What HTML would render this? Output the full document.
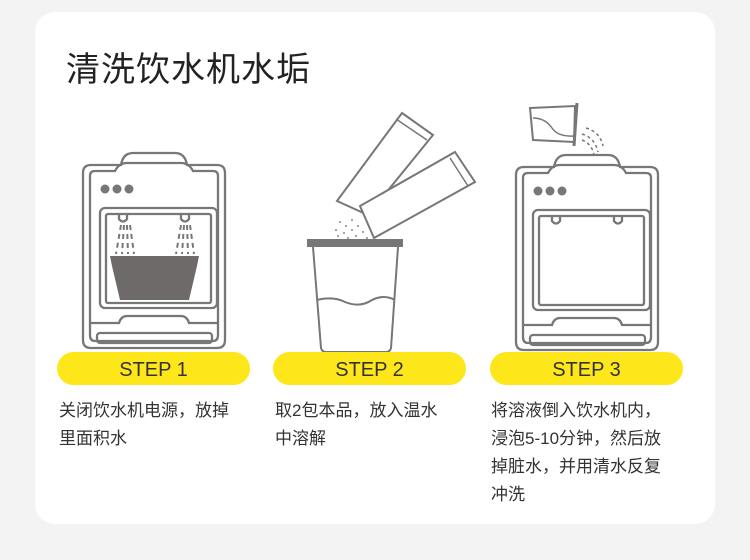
<!DOCTYPE html>
<html><head><meta charset="utf-8"><style>
body{margin:0;width:750px;height:560px;background:#f3f3f3;font-family:"Liberation Sans","Noto Sans CJK SC",sans-serif;overflow:hidden;position:relative}
.card{position:absolute;left:35px;top:12px;width:680px;height:512px;background:#fff;border-radius:20px}
.title{position:absolute;left:66px;top:42px;font-size:34px;color:#222;letter-spacing:1px}
.pill{position:absolute;top:352px;height:33px;width:193px;background:#fde619;border-radius:17px;text-align:center;line-height:37px;font-size:20px;color:#333}
.txt{position:absolute;top:397px;font-size:17px;line-height:28px;color:#333;width:200px}
svg{position:absolute;left:0;top:0}
</style></head><body>
<div class="card"></div>
<div class="title">清洗饮水机水垢</div>
<svg width="750" height="560" fill="none" stroke="#777" stroke-width="2.3">
<defs>
<g id="m">
<path d="M8 12 H38 Q40 0 50 0 H92 Q102 0 104 12 H134 Q142 12 142 20 V187 Q142 195 134 195 H8 Q0 195 0 187 V20 Q0 12 8 12 Z"/>
<path d="M12 18 H32 Q36 10 44 10 H98 Q106 10 110 18 H130 Q135 18 135 23 V182 Q135 188 130 188 H12 Q7 188 7 182 V23 Q7 18 12 18 Z"/>
<rect x="17" y="55" width="117" height="100" rx="5"/>
<rect x="23" y="61" width="105" height="89" rx="2"/>
<path d="M36 61 V66 Q40 71 44 66 V61 M98 61 V66 Q102 71 106 66 V61"/>
<path d="M7 170 H36 Q38 163 44 163 H98 Q104 163 106 170 H135"/>
<rect x="14" y="180" width="115" height="10" rx="3"/>
<circle cx="22" cy="36" r="4.5" fill="#777" stroke="none"/>
<circle cx="34" cy="36" r="4.5" fill="#777" stroke="none"/>
<circle cx="46" cy="36" r="4.5" fill="#777" stroke="none"/>
</g>
</defs>
<use href="#m" x="83" y="153"/>
<use href="#m" x="516" y="155"/>
<path d="M110 256 H199 L197 266 L189 300 H120 L112 266 Z" fill="#6e6a6a" stroke="none"/>
<g stroke-width="2" stroke-dasharray="5 4">
<path d="M121 225 L116 254 M124 225 L122 254 M127 225 L128 254 M130 225 L134 254"/>
<path d="M181 225 L176 254 M184 225 L182 254 M187 225 L188 254 M190 225 L194 254"/>
</g>
<rect x="307" y="239" width="96" height="8" fill="#777" stroke="none"/>
<path d="M313 247 L321 348 Q322 352 326 352 H386 Q390 352 391 348 L398 247" stroke-width="2"/>
<path d="M317 300 Q333 296 345 302 Q360 308 372 300 Q384 294 395 300" stroke-width="2"/>
<polygon points="402,113 433,135 368,215 337,201" fill="#fff" stroke-width="2"/>
<polygon points="455,152 475,182 374,238 360,206" fill="#fff" stroke-width="2"/>
<path d="M396 119 L427 140 M450 158 L468 186" stroke-width="1.5"/>
<g fill="#888" stroke="none">
<circle cx="340" cy="222" r="1"/><circle cx="346" cy="226" r="1"/><circle cx="352" cy="220" r="1"/><circle cx="336" cy="230" r="1"/><circle cx="344" cy="233" r="1"/><circle cx="352" cy="230" r="1"/><circle cx="358" cy="226" r="1"/><circle cx="338" cy="236" r="1"/><circle cx="348" cy="238" r="1"/><circle cx="356" cy="236" r="1"/><circle cx="363" cy="232" r="1"/><circle cx="367" cy="238" r="1"/>
</g>
<path d="M530 108 L575 106 L574 142 L533 140 Z" fill="#fff" stroke-width="2"/>
<path d="M533 118 Q545 118 552 128 Q558 137 574 136" stroke-width="1.5"/>
<path d="M577 103 L574 146" stroke-width="3"/>
<g stroke-width="1.5" stroke-dasharray="3 3">
<path d="M582 134 Q595 138 598 152"/><path d="M582 140 Q592 144 594 155"/><path d="M586 128 Q600 132 603 146"/>
</g>
</svg>
<div class="pill" style="left:57px">STEP 1</div>
<div class="pill" style="left:273px">STEP 2</div>
<div class="pill" style="left:490px">STEP 3</div>
<div class="txt" style="left:59px">关闭饮水机电源，放掉<br>里面积水</div>
<div class="txt" style="left:275px">取2包本品，放入温水<br>中溶解</div>
<div class="txt" style="left:491px">将溶液倒入饮水机内，<br>浸泡5-10分钟，然后放<br>掉脏水，并用清水反复<br>冲洗</div>
</body></html>
